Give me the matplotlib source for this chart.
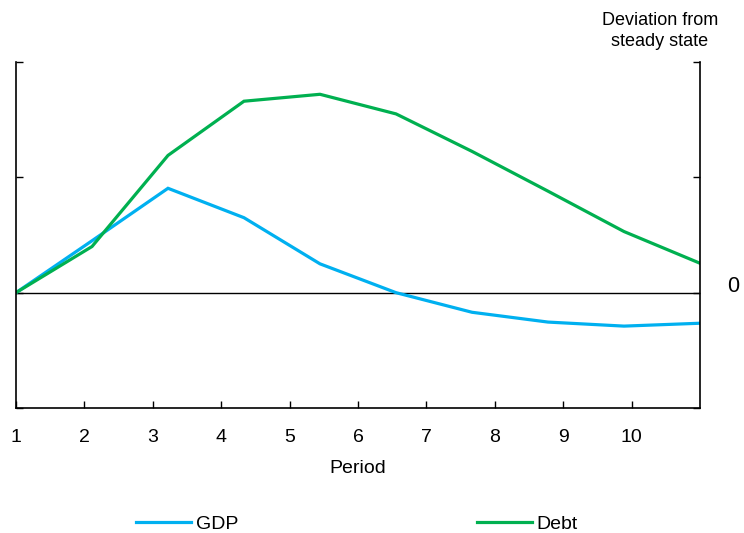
import matplotlib
matplotlib.use("Agg")
import matplotlib.pyplot as plt
from matplotlib.lines import Line2D

plt.rcParams['font.family'] = ['Liberation Sans', 'DejaVu Sans']

# Data: 10 observations evenly spread over the axis range 1..11
obs_pos = [1.0, 2.111, 3.222, 4.333, 5.444, 6.556, 7.667, 8.778, 9.889, 11.0]
gdp = [0.0, 0.45, 0.905, 0.65, 0.25, 0.0, -0.17, -0.255, -0.29, -0.265]
debt = [0.0, 0.40, 1.19, 1.66, 1.72, 1.55, 1.225, 0.88, 0.53, 0.255]
period_ticks = [1, 2, 3, 4, 5, 6, 7, 8, 9, 10]
period_labels = ['1', '2', '3', '4', '5', '6', '7', '8', '9', '10']

W, H = 744, 533
fig = plt.figure(figsize=(W / 100, H / 100), dpi=100)
ax = fig.add_axes([16 / W, 1 - 408 / H, (700 - 16) / W, (408 - 62) / H])

ax.plot(obs_pos, gdp, color='#00B0F0', lw=2.3, solid_joinstyle='miter', label='GDP')
ax.plot(obs_pos, debt, color='#00B050', lw=2.3, solid_joinstyle='miter', label='Debt')
ax.axhline(0, color='black', lw=1.0, zorder=1)

ax.set_xlim(1, 11)
ax.set_ylim(-1, 2)
ax.set_xticks(period_ticks)
ax.set_xticklabels(period_labels, fontsize=14)
ax.set_yticks([-1, 0, 1, 2])
ax.set_yticklabels([])
ax.tick_params(axis='x', direction='in', length=5, width=1, pad=15)
ax.tick_params(axis='y', direction='in', length=5, width=1, left=True, right=True)
ax.spines['top'].set_visible(False)
for s in ['left', 'right', 'bottom']:
    ax.spines[s].set_linewidth(1.2)
    ax.spines[s].set_color('black')

ax.set_xlabel('Period', fontsize=14, labelpad=10)
fig.text(733 / W, 1 - 287 / H, '0', fontsize=15.5, va='center', ha='center')
fig.text(660 / W, 1 - 31 / H, 'Deviation from\nsteady state', ha='center', va='center',
         fontsize=13, linespacing=1.35)

handles = [Line2D([], [], color='#00B0F0', lw=2.3), Line2D([], [], color='#00B050', lw=2.3)]
fig.legend(handles, ['GDP', 'Debt'], loc='center', bbox_to_anchor=(357 / W, 1 - 524 / H),
           ncol=2, frameon=False, fontsize=14, handlelength=2.8, handletextpad=0.25,
           columnspacing=12.3, borderpad=0.2)

fig.savefig('out.png', dpi=100)
